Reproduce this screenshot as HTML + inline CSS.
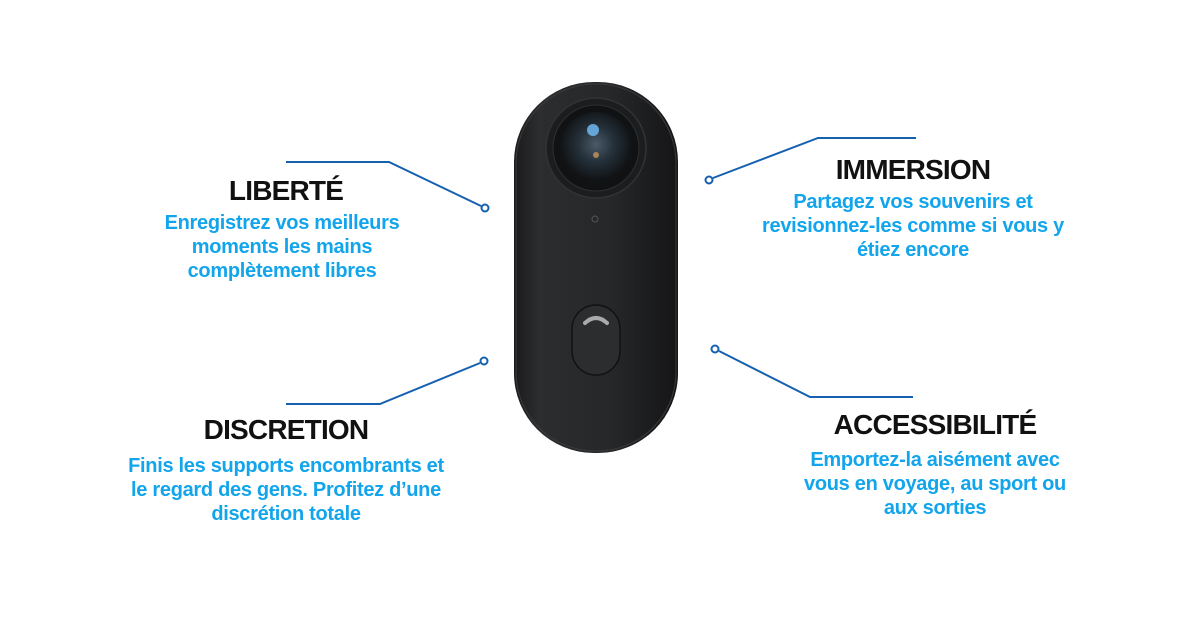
<!DOCTYPE html>
<html><head><meta charset="utf-8"><style>
html,body{margin:0;padding:0;background:#fff;}
body{width:1200px;height:628px;position:relative;overflow:hidden;font-family:"Liberation Sans",sans-serif;}
.t{position:absolute;width:400px;text-align:center;font-weight:bold;color:#111;font-size:28px;letter-spacing:-0.8px;line-height:32px;}
.d{position:absolute;width:400px;text-align:center;font-weight:bold;color:#12a5ec;font-size:20px;letter-spacing:-0.3px;line-height:24px;}
</style></head><body>
<svg width="1200" height="628" style="position:absolute;left:0;top:0">
<defs>
<linearGradient id="bd" x1="0" x2="1" y1="0" y2="0">
<stop offset="0" stop-color="#1a1a1b"/><stop offset="0.15" stop-color="#2c2d2f"/><stop offset="0.6" stop-color="#262729"/><stop offset="1" stop-color="#151516"/>
</linearGradient>
<radialGradient id="ln" cx="0.5" cy="0.45" r="0.5">
<stop offset="0" stop-color="#4a5a68"/><stop offset="0.5" stop-color="#243039"/><stop offset="1" stop-color="#111315"/>
</radialGradient>
</defs>
<g fill="none" stroke="#1560b0" stroke-width="2">
<polyline points="286,162 389,162 481,206"/>
<polyline points="286,404 380,404 480,363"/>
<polyline points="713,178 818,138 916,138"/>
<polyline points="719,351 810,397 913,397"/>
</g>
<g fill="#fff" stroke="#1560b0" stroke-width="2">
<circle cx="485" cy="208" r="3.5"/><circle cx="484" cy="361" r="3.5"/>
<circle cx="709" cy="180" r="3.5"/><circle cx="715" cy="349" r="3.5"/>
</g>
<rect x="514" y="82" width="164" height="371" rx="80" fill="url(#bd)"/>
<rect x="516" y="84" width="160" height="367" rx="79" fill="none" stroke="#3a3b3d" stroke-width="1"/>
<circle cx="596" cy="148" r="50" fill="#1c1d1f" stroke="#333" stroke-width="1.5"/>
<circle cx="596" cy="148" r="43" fill="#111213" stroke="#2e2f31" stroke-width="1"/>
<circle cx="596" cy="148" r="36" fill="url(#ln)"/>
<circle cx="593" cy="130" r="6" fill="#6fb8f0" opacity="0.85"/>
<circle cx="596" cy="155" r="3" fill="#c9925a" opacity="0.8"/>
<circle cx="595" cy="219" r="3" fill="none" stroke="#555" stroke-width="1"/>
<rect x="572" y="305" width="48" height="70" rx="24" fill="#2c2d2f" stroke="#111" stroke-width="1.5"/>
<path d="M585,323 Q596,313 607,323" fill="none" stroke="#aaa" stroke-width="4" stroke-linecap="round"/>
</svg>
<div class="t" style="left:86px;top:175px">LIBERTÉ</div>
<div class="d" style="left:82px;top:211px">Enregistrez vos meilleurs<br>moments les mains<br>complètement libres</div>
<div class="t" style="left:86px;top:414px">DISCRETION</div>
<div class="d" style="left:86px;top:454px">Finis les supports encombrants et<br>le regard des gens. Profitez d’une<br>discrétion totale</div>
<div class="t" style="left:713px;top:154px">IMMERSION</div>
<div class="d" style="left:713px;top:190px">Partagez vos souvenirs et<br>revisionnez-les comme si vous y<br>étiez encore</div>
<div class="t" style="left:735px;top:409px">ACCESSIBILITÉ</div>
<div class="d" style="left:735px;top:448px">Emportez-la aisément avec<br>vous en voyage, au sport ou<br>aux sorties</div>
</body></html>
